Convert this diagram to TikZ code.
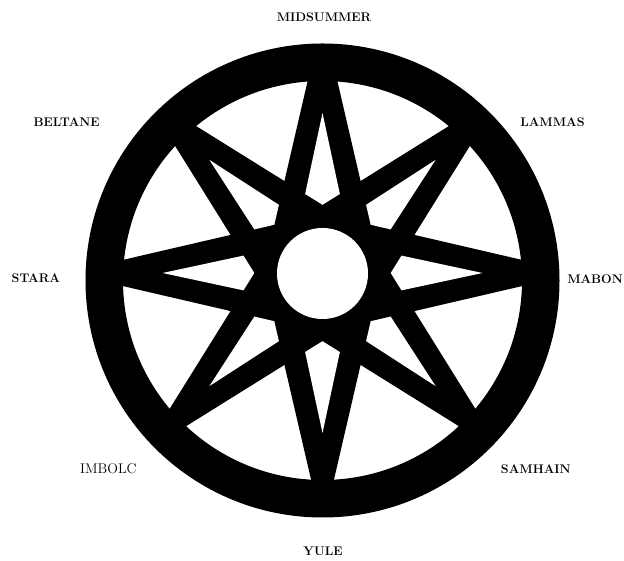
\documentclass[tikz,border=0pt]{standalone}
\begin{document}
\begin{tikzpicture}[x=1pt,y=1pt,
  lbl/.style={font=\fontsize{12.5}{14}\selectfont\bfseries, inner sep=0pt, text=black},
  lblr/.style={font=\fontsize{14}{16}\selectfont, inner sep=0pt, text=black}]
\useasboundingbox (0,0) rectangle (624,561);
\fill[white] (0,0) rectangle (624,561);
\coordinate (S) at (322.5,288);
\coordinate (R) at (322.5,280.5);
% star
\begin{scope}
  \clip (R) circle (215);
  \begin{scope}[shift={(S)}]
    \fill[black] (0:256) \foreach \a in {0,45,...,315} { -- (\a:256) -- ({\a+22.5}:99.5) } -- cycle;
    \foreach \a in {0,45,...,315}
      \fill[white] (\a:160) -- ({\a-12.4}:80.9) -- (\a:68.2) -- ({\a+12.4}:80.9) -- cycle;
  \end{scope}
\end{scope}
% central hole
\fill[white] (322.5,287.5) circle (45.5);
% ring
\fill[black, even odd rule] (R) circle (237) (R) circle (199.5);
% labels
\node[lbl] (mid) at (324,544) {MIDSUMMER};
\node[lbl] (bel) at (66.7,438.7) {BELTANE};
\node[lbl] (lam) at (552.5,438.7) {LAMMAS};
\node[lbl] (sta) at (35.8,282.7) {STARA};
\node[lbl, anchor=east] (mab) at (623,282) {MABON};
\node[lblr] (imb) at (108.3,92) {IMBOLC};
\node[lbl] (sam) at (535.8,92) {SAMHAIN};
\node[lbl] (yul) at (323,10) {YULE};
\end{tikzpicture}
\end{document}
